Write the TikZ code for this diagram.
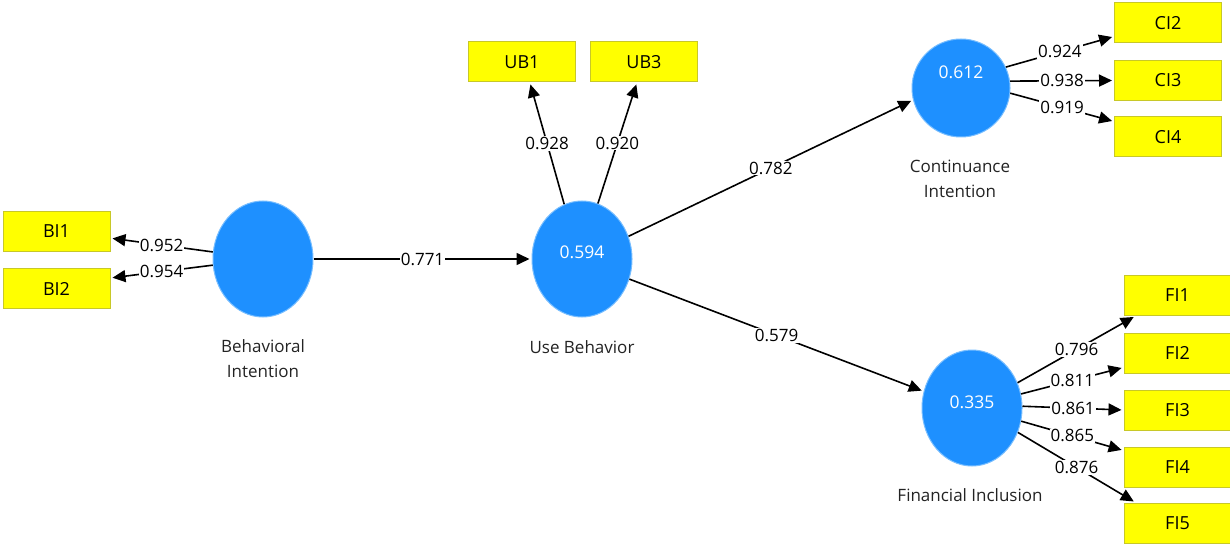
\documentclass[tikz,border=0pt]{standalone}
\usepackage{fontspec}
\setmainfont{Open Sans}
\usetikzlibrary{arrows.meta,positioning,shapes.geometric}
\definecolor{azulv}{RGB}{30,144,255}
\definecolor{azulb}{RGB}{120,190,255}
\definecolor{amar}{RGB}{255,255,0}
\definecolor{amarb}{RGB}{200,200,40}
\definecolor{tinta}{RGB}{35,35,35}
\tikzset{
  lat/.style={ellipse, fill=azulv, draw=azulb, line width=1pt, minimum width=100pt, minimum height=116pt, inner sep=0pt},
  val/.style={text=white, inner sep=0pt, font=\fontsize{17.5}{20}\selectfont},
  ind/.style={rectangle, fill=amar, draw=amarb, line width=1pt, minimum width=107pt, minimum height=40pt, inner sep=0pt, font=\fontsize{18}{20}\selectfont},
  nom/.style={align=center, text=tinta, inner sep=0pt, font=\fontsize{17}{25}\selectfont},
  fl/.style={-{Triangle[length=13pt,width=12pt]}, line width=1.6pt, shorten >=2pt},
  peso/.style={fill=white, inner sep=1pt, font=\fontsize{17}{20}\selectfont},
}

\begin{document}
\begin{tikzpicture}[x=1pt, y=-1pt]
  \useasboundingbox (0,0) rectangle (1230,545);
  % latent variables
  \node[lat] (bi) at (263,259) {};
  \node[lat] (ub) at (582,259) {};
  \node[lat, minimum width=98pt, minimum height=98pt] (ci) at (961,88) {};
  \node[lat] (fi) at (972,408) {};
  \node[val] (ubv) at (582,252) {0.594};
  \node[val] (civ) at (961,72) {0.612};
  \node[val] (fiv) at (972,402) {0.335};
  \node[nom] (bin) at (263,359) {Behavioral\\Intention};
  \node[nom] (ubn) at (582,347) {Use Behavior};
  \node[nom] (cin) at (960,179) {Continuance\\Intention};
  \node[nom] (fin) at (970,495) {Financial Inclusion};
  % indicators
  \node[ind] (bi1) at (56.5,231.5) {BI1};
  \node[ind] (bi2) at (56.5,288.5) {BI2};
  \node[ind] (ub1) at (522,62) {UB1};
  \node[ind] (ub3) at (644,62) {UB3};
  \node[ind] (ci2) at (1168,23) {CI2};
  \node[ind] (ci3) at (1168,80.5) {CI3};
  \node[ind] (ci4) at (1168,137) {CI4};
  \node[ind] (fi1) at (1177.5,295.5) {FI1};
  \node[ind] (fi2) at (1177.5,353) {FI2};
  \node[ind] (fi3) at (1177.5,410) {FI3};
  \node[ind] (fi4) at (1177.5,467) {FI4};
  \node[ind] (fi5) at (1177.5,523) {FI5};
  % loadings and paths
  \draw[fl] (bi.172) -- node[peso] {0.952} (bi1.-7);
  \draw[fl] (bi.187) -- node[peso] {0.954} (bi2.11);
  \draw[fl] (bi.east) -- node[peso] {0.771} (ub.west);
  \draw[fl] (ub.108) -- node[peso] {0.928} (ub1.-69);
  \draw[fl] (ub.74) -- node[peso] {0.920} (ub3.-109);
  \draw[fl] (ub.26) -- node[peso] {0.782} (ci.194);
  \draw[fl] (ub.-23) -- node[peso] {0.579} (fi.161);
  \draw[fl] (ci.25) -- node[peso] {0.924} (ci2.194);
  \draw[fl] (ci.8) -- node[peso] {0.938} (ci3.west);
  \draw[fl] (ci.-6) -- node[peso] {0.919} (ci4.164);
  \draw[fl] (fi.29) -- node[peso] {0.796} (fi1.206);
  \draw[fl] (fi.16) -- node[peso] {0.811} (fi2.195);
  \draw[fl] (fi.2) -- node[peso] {0.861} (fi3.west);
  \draw[fl] (fi.-15) -- node[peso] {0.865} (fi4.163);
  \draw[fl] (fi.-28) -- node[peso] {0.876} (fi5.154);
\end{tikzpicture}
\end{document}
